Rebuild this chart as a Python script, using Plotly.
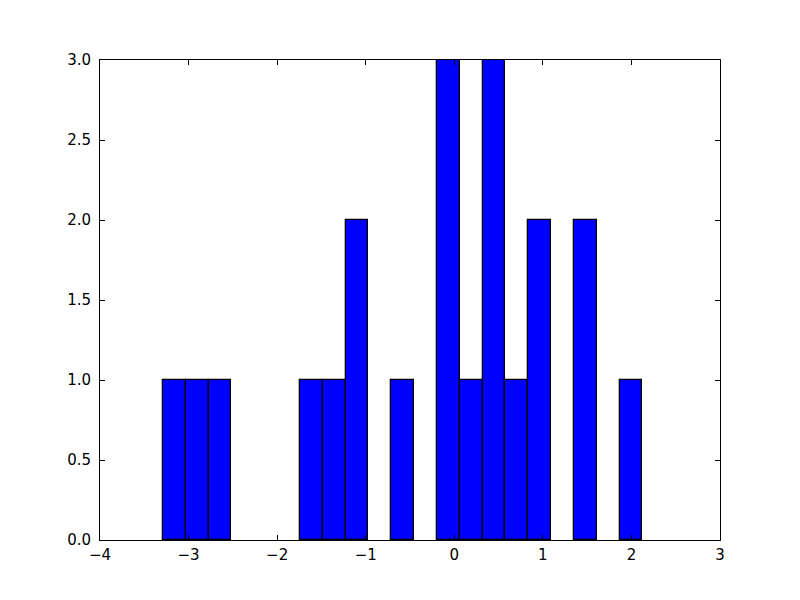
import plotly.graph_objects as go

bin_start = -3.29
bin_width = 0.2578
counts = [1, 1, 1, 0, 0, 0, 1, 1, 2, 0, 1, 0, 3, 1, 3, 1, 2, 0, 2, 0, 1]
x_ticks = [-4, -3, -2, -1, 0, 1, 2, 3]
x_tick_labels = ["\u22124", "\u22123", "\u22122", "\u22121", "0", "1", "2", "3"]
y_ticks = [0.0, 0.5, 1.0, 1.5, 2.0, 2.5, 3.0]
y_tick_labels = ["0.0", "0.5", "1.0", "1.5", "2.0", "2.5", "3.0"]

centers = [bin_start + bin_width * (i + 0.5) for i in range(len(counts))]
outline_widths = [1.3 if c > 0 else 0 for c in counts]

fig = go.Figure(go.Bar(
    x=centers, y=counts, width=bin_width,
    marker=dict(color="#0000ff", line=dict(color="black", width=outline_widths)),
))

axis_common = dict(
    showgrid=False, zeroline=False, showline=True, linecolor="black", linewidth=1,
    mirror="ticks", ticks="inside", ticklen=5, tickcolor="black", tickwidth=1,
    tickfont=dict(family="DejaVu Sans", size=15, color="black"),
)
fig.update_xaxes(range=[-4, 3], tickvals=x_ticks, ticktext=x_tick_labels,
                 ticklabelstandoff=1, **axis_common)
fig.update_yaxes(range=[0, 3], tickvals=y_ticks, ticktext=y_tick_labels,
                 ticklabelstandoff=5, **axis_common)
fig.update_layout(
    width=784, height=584, bargap=0,
    margin=dict(l=92, r=72, t=52, b=52),
    plot_bgcolor="white", paper_bgcolor="white", showlegend=False,
)
fig.write_html("out.html")
